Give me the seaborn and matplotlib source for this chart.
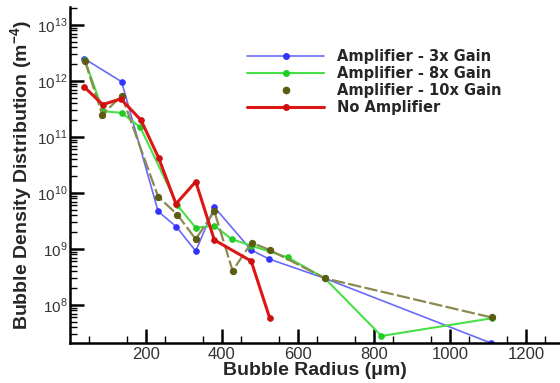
import numpy as np
import pandas as pd
import matplotlib
matplotlib.use("Agg")
import matplotlib.pyplot as plt
from matplotlib.lines import Line2D
from matplotlib.ticker import FixedLocator, LogLocator, NullFormatter, FixedFormatter
import seaborn as sns

# radius (um) / density (m^-4)
x_3x = [38, 136, 232, 280, 331, 380, 477, 525, 671, 1108]
y_3x = [2.5e12, 9.7e11, 4.7e9, 2.5e9, 9.2e8, 5.6e9, 9.6e8, 6.6e8, 3.0e8, 2.1e7]

x_8x = [39, 87, 136, 185, 283, 331, 380, 426, 477, 573, 671, 820, 1110]
y_8x = [2.4e12, 2.9e11, 2.7e11, 1.5e11, 6.0e9, 2.4e9, 2.6e9, 1.5e9, 1.15e9, 7.1e8, 3.0e8, 2.8e7, 5.8e7]

x_10x = [39, 85, 136, 232, 283, 331, 380, 428, 478, 526, 671, 1110]
y_10x = [2.3e12, 2.5e11, 5.5e11, 8.6e9, 4.1e9, 1.5e9, 4.7e9, 4.1e8, 1.3e9, 9.6e8, 3.0e8, 6.0e7]

x_none = [38, 86, 134, 187, 233, 279, 331, 380, 477, 526]
y_none = [7.8e11, 3.8e11, 4.8e11, 2.0e11, 4.3e10, 6.4e9, 1.6e10, 1.45e9, 6.1e8, 5.8e7]

labels = ["Amplifier - 3x Gain", "Amplifier - 8x Gain", "Amplifier - 10x Gain", "No Amplifier"]

sns.set_style("ticks")
plt.rcParams["font.family"] = ["Liberation Sans", "DejaVu Sans"]
plt.rcParams["mathtext.fontset"] = "custom"
plt.rcParams["mathtext.rm"] = "Liberation Sans"
plt.rcParams["mathtext.bf"] = "Liberation Sans:bold"

fig = plt.figure(figsize=(5.6, 3.83), dpi=100)
ax = fig.add_axes([70 / 560, 40 / 383, 490 / 560, 336 / 383])

series = [
    (x_3x, y_3x, "#6a6af8", "#3434ff", 1.2, "-", 4.0),
    (x_8x, y_8x, "#48e048", "#22cc22", 1.5, "-", 4.0),
    (x_10x, y_10x, "#8a8a50", "#5c5c12", 1.6, (0, (6, 1.5)), 4.5),
    (x_none, y_none, "#dd1515", "#cc1010", 2.2, "-", 4.0),
]

for (xs, ys, lc, mc, lw, ls, ms), lab in zip(series, labels):
    df = pd.DataFrame({"r": xs, "n": ys})
    sns.lineplot(data=df, x="r", y="n", ax=ax, sort=False, estimator=None,
                 color=lc, linewidth=lw, linestyle=ls, marker="o",
                 markersize=ms, markerfacecolor=mc, markeredgecolor=mc)

ax.set_yscale("log")
ax.set_xlim(0, 1290)
ax.set_ylim(2.1e7, 2.1e13)

for s in ["top", "right"]:
    ax.spines[s].set_visible(False)
for s in ["left", "bottom"]:
    ax.spines[s].set_linewidth(1.8)
    ax.spines[s].set_color("black")

ax.xaxis.set_major_locator(FixedLocator([200, 400, 600, 800, 1000, 1200]))
ax.xaxis.set_minor_locator(FixedLocator(np.arange(50, 1300, 100)))
decades = [1e8, 1e9, 1e10, 1e11, 1e12, 1e13]
ax.yaxis.set_major_locator(FixedLocator(decades))
ax.yaxis.set_major_formatter(FixedFormatter([r"$10^{%d}$" % int(np.log10(d)) for d in decades]))
ax.yaxis.set_minor_locator(LogLocator(base=10, subs=np.arange(2, 10), numticks=20))
ax.yaxis.set_minor_formatter(NullFormatter())

ax.tick_params(which="major", direction="in", length=10, width=1.8, colors="black",
               labelcolor="#333333", pad=3)
ax.tick_params(axis="x", which="major", labelsize=12)
ax.tick_params(axis="y", which="major", labelsize=11, pad=2)
ax.tick_params(which="minor", direction="in", length=5, width=1.0, colors="black")

ax.set_xlabel("Bubble Radius (\u03bcm)", fontsize=14, fontweight="bold", labelpad=0)
ax.set_ylabel(r"Bubble Density Distribution (m$^{\mathbf{-4}}$)", fontsize=14,
              fontweight="bold", labelpad=1)

handles = [
    Line2D([], [], color="#6a6af8", lw=1.2, marker="o", ms=4, mfc="#3434ff", mec="#3434ff"),
    Line2D([], [], color="#48e048", lw=1.5, marker="o", ms=4, mfc="#22cc22", mec="#22cc22"),
    Line2D([], [], color="none", lw=0, marker="o", ms=4.5, mfc="#5c5c12", mec="#5c5c12"),
    Line2D([], [], color="#dd1515", lw=2.2, marker="o", ms=4, mfc="#cc1010", mec="#cc1010"),
]
leg = fig.legend(handles, labels, loc="upper left", bbox_to_anchor=(247 / 560, 1 - 49 / 383),
                 frameon=False, borderpad=0, borderaxespad=0, handlelength=5.3,
                 handletextpad=0.9, labelspacing=0.14,
                 prop={"family": "DejaVu Sans", "weight": "bold", "size": 10.5})

fig.savefig("out.png", dpi=100)
